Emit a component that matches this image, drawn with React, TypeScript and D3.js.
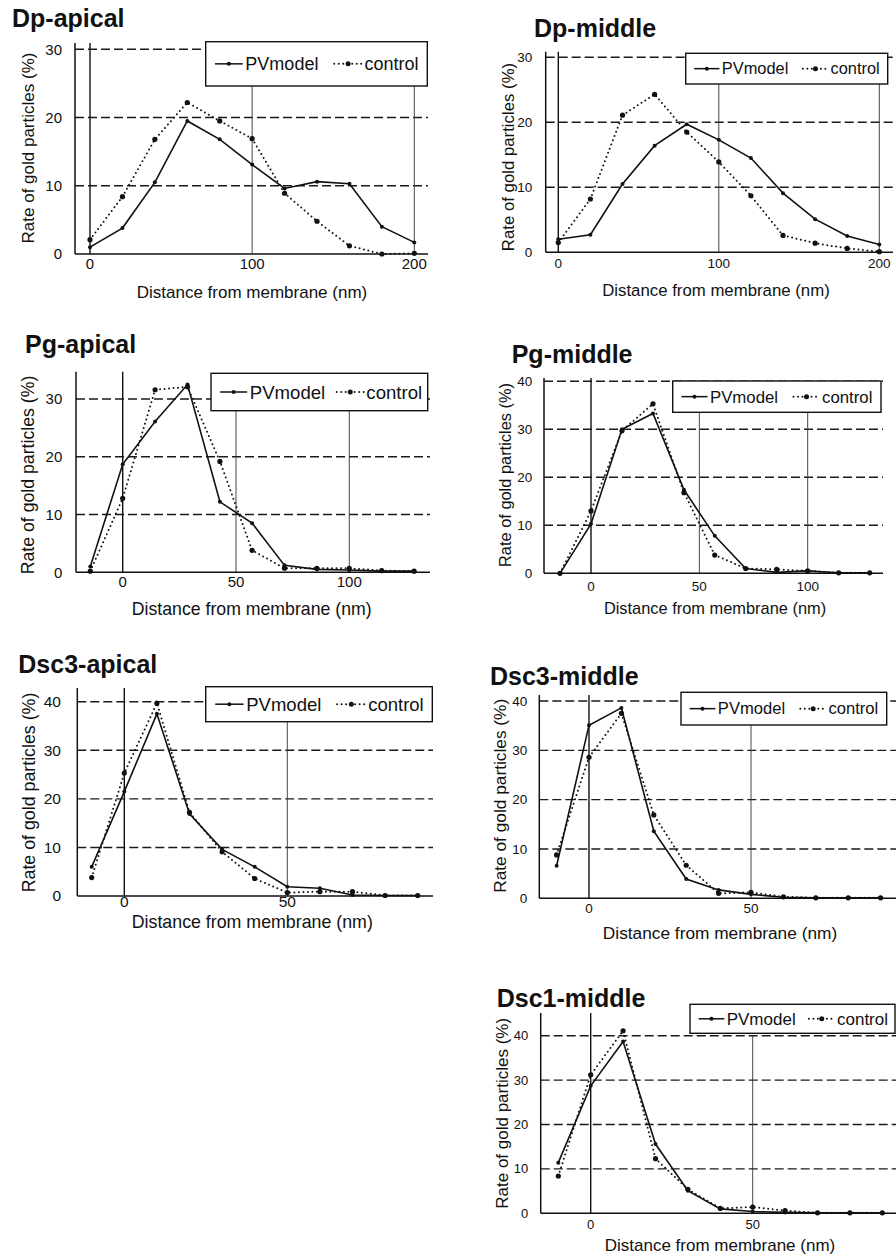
import React, { useEffect, useRef } from "react";
import * as d3 from "d3";

// x positions of the bins (nm from membrane)
const dpX = [0, 20, 40, 60, 80, 100, 120, 140, 160, 180, 200];
const pgX = [-14.3, 0, 14.3, 28.6, 42.9, 57.1, 71.4, 85.7, 100, 114.3, 128.6];
const dscX = [-10, 0, 10, 20, 30, 40, 50, 60, 70, 80, 90];

// series values (% of gold particles)
const dpApicalPV = [1.0, 3.8, 10.5, 19.5, 16.8, 13.1, 9.6, 10.6, 10.3, 4.0, 1.7];
const dpApicalControl = [2.1, 8.4, 16.8, 22.2, 19.5, 16.9, 8.9, 4.8, 1.2, 0, 0.1];
const dpMiddlePV = [2.0, 2.7, 10.5, 16.4, 19.7, 17.3, 14.5, 9.1, 5.1, 2.5, 1.2];
const dpMiddleControl = [1.5, 8.2, 21.1, 24.3, 18.5, 13.9, 8.7, 2.6, 1.4, 0.6, 0.1];
const pgApicalPV = [1.0, 18.7, 26.1, 32.5, 12.2, 8.5, 1.2, 0.5, 0.4, 0.2, 0.2];
const pgApicalControl = [0.2, 12.8, 31.6, 32.1, 19.2, 3.8, 0.7, 0.7, 0.7, 0.3, 0.2];
const pgMiddlePV = [0, 10.3, 30.0, 33.3, 17.4, 7.8, 1.0, 0.2, 0.5, 0.1, 0.1];
const pgMiddleControl = [0, 13.0, 29.7, 35.3, 16.8, 3.8, 1.0, 0.8, 0.5, 0.1, 0.1];
const dsc3ApicalPV = [6.0, 21.5, 37.5, 16.9, 9.6, 6.0, 1.9, 1.6, 0.2, 0.1, 0.1];
const dsc3ApicalControl = [3.8, 25.3, 39.7, 17.2, 9.1, 3.6, 0.7, 0.9, 0.9, 0.1, 0.1];
const dsc3MiddlePV = [6.6, 35.1, 38.6, 13.6, 3.9, 1.7, 0.8, 0.2, 0.1, 0.1, 0.1];
const dsc3MiddleControl = [8.8, 28.6, 37.5, 16.9, 6.7, 1.0, 1.2, 0.3, 0.1, 0.1, 0.1];
const dsc1MiddlePV = [11.4, 28.7, 38.7, 15.6, 5.1, 1.0, 0.4, 0.2, 0.1, 0.1, 0.1];
const dsc1MiddleControl = [8.4, 31.2, 41.1, 12.3, 5.4, 1.1, 1.4, 0.6, 0.1, 0.1, 0.1];

// tick labels
const yTicks30 = [0, 10, 20, 30];
const yTicks40 = [0, 10, 20, 30, 40];
const dpXTicks = [0, 100, 200];
const pgXTicks = [0, 50, 100];
const dscXTicks = [0, 50];

const seriesNames = ["PVmodel", "control"];
const yLabel = "Rate of gold particles (%)";
const xLabel = "Distance from membrane (nm)";

const FONT = "'Liberation Sans', Arial, Helvetica, sans-serif";

const panels = [
  {
    title: "Dp-apical", xs: dpX, pv: dpApicalPV, ctrl: dpApicalControl, xTicks: dpXTicks, yTicks: yTicks30,
    L: { tx: 12, ty: 26.7, axisX: 75, axisTop: 43, y0: 254, right: 428, xDom: [0, 200], xRng: [90, 414.3], yMax: 30, yMaxPx: 49.3,
      tickRight: 62, tickSize: 15, xTickY: 264, yTitleX: 28, yTitleY: 148, xTitleX: 252, xTitleY: 291.7, axisFont: 17,
      legend: [205.7, 41.7, 221.6, 44.3], legendFont: 18 },
  },
  {
    title: "Dp-middle", xs: dpX, pv: dpMiddlePV, ctrl: dpMiddleControl, xTicks: dpXTicks, yTicks: yTicks30,
    L: { tx: 534, ty: 37.3, axisX: 545.7, axisTop: 51.7, y0: 252.3, right: 893, xDom: [0, 200], xRng: [558.3, 879.3], yMax: 30, yMaxPx: 57.3,
      tickRight: 532.3, tickSize: 13.5, xTickY: 263.3, yTitleX: 508, yTitleY: 157, xTitleX: 716, xTitleY: 290, axisFont: 16.8,
      legend: [685.7, 53.3, 202, 30.7], legendFont: 16.4 },
  },
  {
    title: "Pg-apical", xs: pgX, pv: pgApicalPV, ctrl: pgApicalControl, xTicks: pgXTicks, yTicks: yTicks30,
    L: { tx: 25, ty: 353.3, axisX: 76, axisTop: 371.7, y0: 572.3, right: 430, xDom: [0, 100], xRng: [122.7, 349.3], yMax: 30, yMaxPx: 399,
      tickRight: 62.3, tickSize: 15, xTickY: 581.7, yTitleX: 28, yTitleY: 475, xTitleX: 251.7, xTitleY: 609.3, axisFont: 17.7,
      legend: [211, 373.3, 216.7, 37.4], legendFont: 18.6 },
  },
  {
    title: "Pg-middle", xs: pgX, pv: pgMiddlePV, ctrl: pgMiddleControl, xTicks: pgXTicks, yTicks: yTicks40,
    L: { tx: 511.7, ty: 363.3, axisX: 544, axisTop: 378, y0: 573.3, right: 883, xDom: [0, 100], xRng: [591, 807.7], yMax: 40, yMaxPx: 381.3,
      tickRight: 532.3, tickSize: 13.5, xTickY: 586.7, yTitleX: 505, yTitleY: 475, xTitleX: 715, xTitleY: 608.3, axisFont: 16.4,
      legend: [672.7, 381, 208.3, 31.3], legendFont: 16.8 },
  },
  {
    title: "Dsc3-apical", xs: dscX, pv: dsc3ApicalPV, ctrl: dsc3ApicalControl, xTicks: dscXTicks, yTicks: yTicks40,
    L: { tx: 18.3, ty: 672.7, axisX: 77.3, axisTop: 688, y0: 896, right: 433, xDom: [0, 50], xRng: [124.3, 287.3], yMax: 40, yMaxPx: 701.7,
      tickRight: 61, tickSize: 15.5, xTickY: 901.7, yTitleX: 29, yTitleY: 792.5, xTitleX: 252.3, xTitleY: 921.7, axisFont: 17.8,
      legend: [205.7, 686.7, 226.6, 35], legendFont: 18.5 },
  },
  {
    title: "Dsc3-middle", xs: dscX, pv: dsc3MiddlePV, ctrl: dsc3MiddleControl, xTicks: dscXTicks, yTicks: yTicks40,
    L: { tx: 490, ty: 685, axisX: 539.3, axisTop: 695, y0: 898.3, right: 896, xDom: [0, 50], xRng: [589, 751], yMax: 40, yMaxPx: 701,
      tickRight: 527.3, tickSize: 13.5, xTickY: 908.3, yTitleX: 500, yTitleY: 795.8, xTitleX: 720, xTitleY: 932.7, axisFont: 17.3,
      legend: [681, 692.3, 205.7, 32.7], legendFont: 16.6 },
  },
  {
    title: "Dsc1-middle", xs: dscX, pv: dsc1MiddlePV, ctrl: dsc1MiddleControl, xTicks: dscXTicks, yTicks: yTicks40,
    L: { tx: 496.7, ty: 1006.7, axisX: 540.7, axisTop: 1013, y0: 1213.3, right: 896, xDom: [0, 50], xRng: [590.7, 752.7], yMax: 40, yMaxPx: 1035.7,
      tickRight: 528.3, tickSize: 13, xTickY: 1224.3, yTitleX: 501.7, yTitleY: 1113.3, xTitleX: 720, xTitleY: 1245, axisFont: 17,
      legend: [690, 1004.3, 205, 29], legendFont: 17 },
  },
];

const drawPanel = (svg, p) => {
  const L = p.L;
  const x = d3.scaleLinear().domain(L.xDom).range(L.xRng);
  const y = d3.scaleLinear().domain([0, L.yMax]).range([L.y0, L.yMaxPx]);
  const topTick = d3.max(p.yTicks);
  const g = svg.append("g").attr("font-family", FONT).attr("fill", "#111");

  // dashed horizontal grid
  g.selectAll(".hgrid")
    .data(p.yTicks.filter((t) => t > 0))
    .enter()
    .append("line")
    .attr("x1", L.axisX)
    .attr("x2", L.right)
    .attr("y1", (d) => y(d))
    .attr("y2", (d) => y(d))
    .attr("stroke", "#1a1a1a")
    .attr("stroke-width", 1.4)
    .attr("stroke-dasharray", "9,4");

  // vertical grid, solid one at 0
  g.selectAll(".vgrid")
    .data(p.xTicks)
    .enter()
    .append("line")
    .attr("x1", (d) => x(d))
    .attr("x2", (d) => x(d))
    .attr("y1", (d) => (d === 0 ? L.axisTop : y(topTick)))
    .attr("y2", L.y0)
    .attr("stroke", (d) => (d === 0 ? "#111" : "#333"))
    .attr("stroke-width", (d) => (d === 0 ? 1.4 : 0.9));

  // legend box
  const [lx, ly, lw, lh] = L.legend;
  g.append("rect")
    .attr("x", lx)
    .attr("y", ly)
    .attr("width", lw)
    .attr("height", lh)
    .attr("fill", "#fff")
    .attr("stroke", "#111")
    .attr("stroke-width", 1.4);
  const midY = ly + lh / 2;
  const lineLen = 0.125 * lw;
  [0.042, 0.58].forEach((f, i) => {
    const sx = lx + f * lw;
    g.append("line")
      .attr("x1", sx)
      .attr("x2", sx + lineLen)
      .attr("y1", midY)
      .attr("y2", midY)
      .attr("stroke", "#111")
      .attr("stroke-width", i === 0 ? 1.5 : 2)
      .attr("stroke-dasharray", i === 0 ? null : "0,4.5")
      .attr("stroke-linecap", i === 0 ? "butt" : "round");
    g.append("circle").attr("cx", sx + lineLen / 2).attr("cy", midY).attr("r", i === 0 ? 2 : 2.5);
    g.append("text")
      .attr("x", sx + lineLen + 0.012 * lw)
      .attr("y", midY)
      .attr("dy", "0.35em")
      .attr("font-size", L.legendFont)
      .text(seriesNames[i]);
  });

  // axes
  g.append("line").attr("x1", L.axisX).attr("x2", L.axisX).attr("y1", L.axisTop).attr("y2", L.y0)
    .attr("stroke", "#111").attr("stroke-width", 1.5);
  g.append("line").attr("x1", L.axisX).attr("x2", L.right).attr("y1", L.y0).attr("y2", L.y0)
    .attr("stroke", "#111").attr("stroke-width", 1.5);

  // series
  const line = d3.line().x((d) => x(d[0])).y((d) => y(d[1]));
  const pvPts = p.xs.map((v, i) => [v, p.pv[i]]);
  const ctPts = p.xs.map((v, i) => [v, p.ctrl[i]]);
  g.append("path").attr("d", line(ctPts)).attr("fill", "none").attr("stroke", "#111")
    .attr("stroke-width", 2).attr("stroke-dasharray", "0,4.5").attr("stroke-linecap", "round");
  g.append("path").attr("d", line(pvPts)).attr("fill", "none").attr("stroke", "#111").attr("stroke-width", 1.6);
  g.selectAll(".ctdot").data(ctPts).enter().append("circle")
    .attr("cx", (d) => x(d[0])).attr("cy", (d) => y(d[1])).attr("r", 2.6);
  g.selectAll(".pvdot").data(pvPts).enter().append("circle")
    .attr("cx", (d) => x(d[0])).attr("cy", (d) => y(d[1])).attr("r", 2);

  // tick labels
  g.selectAll(".ytl").data(p.yTicks).enter().append("text")
    .attr("x", L.tickRight).attr("y", (d) => y(d)).attr("dy", "0.35em")
    .attr("text-anchor", "end").attr("font-size", L.tickSize).text((d) => d);
  g.selectAll(".xtl").data(p.xTicks).enter().append("text")
    .attr("x", (d) => x(d)).attr("y", L.xTickY).attr("dy", "0.35em")
    .attr("text-anchor", "middle").attr("font-size", L.tickSize).text((d) => d);

  // axis titles
  g.append("text")
    .attr("transform", `translate(${L.yTitleX},${L.yTitleY}) rotate(-90)`)
    .attr("dy", "0.35em").attr("text-anchor", "middle").attr("font-size", L.axisFont).text(yLabel);
  g.append("text")
    .attr("x", L.xTitleX).attr("y", L.xTitleY).attr("dy", "0.35em")
    .attr("text-anchor", "middle").attr("font-size", L.axisFont).text(xLabel);

  // panel title
  g.append("text").attr("x", L.tx).attr("y", L.ty).attr("font-size", 25).attr("font-weight", "bold").text(p.title);
};

const App = () => {
  const ref = useRef(null);

  useEffect(() => {
    const svg = d3.select(ref.current);
    svg.selectAll("*").remove();
    svg.append("rect").attr("width", 896).attr("height", 1255).attr("fill", "#fff");
    panels.forEach((p) => drawPanel(svg, p));
  }, []);

  return (
    <svg
      ref={ref}
      width={896}
      height={1255}
      style={{ position: "absolute", left: 0, top: 0, display: "block" }}
    />
  );
};

export default App;
